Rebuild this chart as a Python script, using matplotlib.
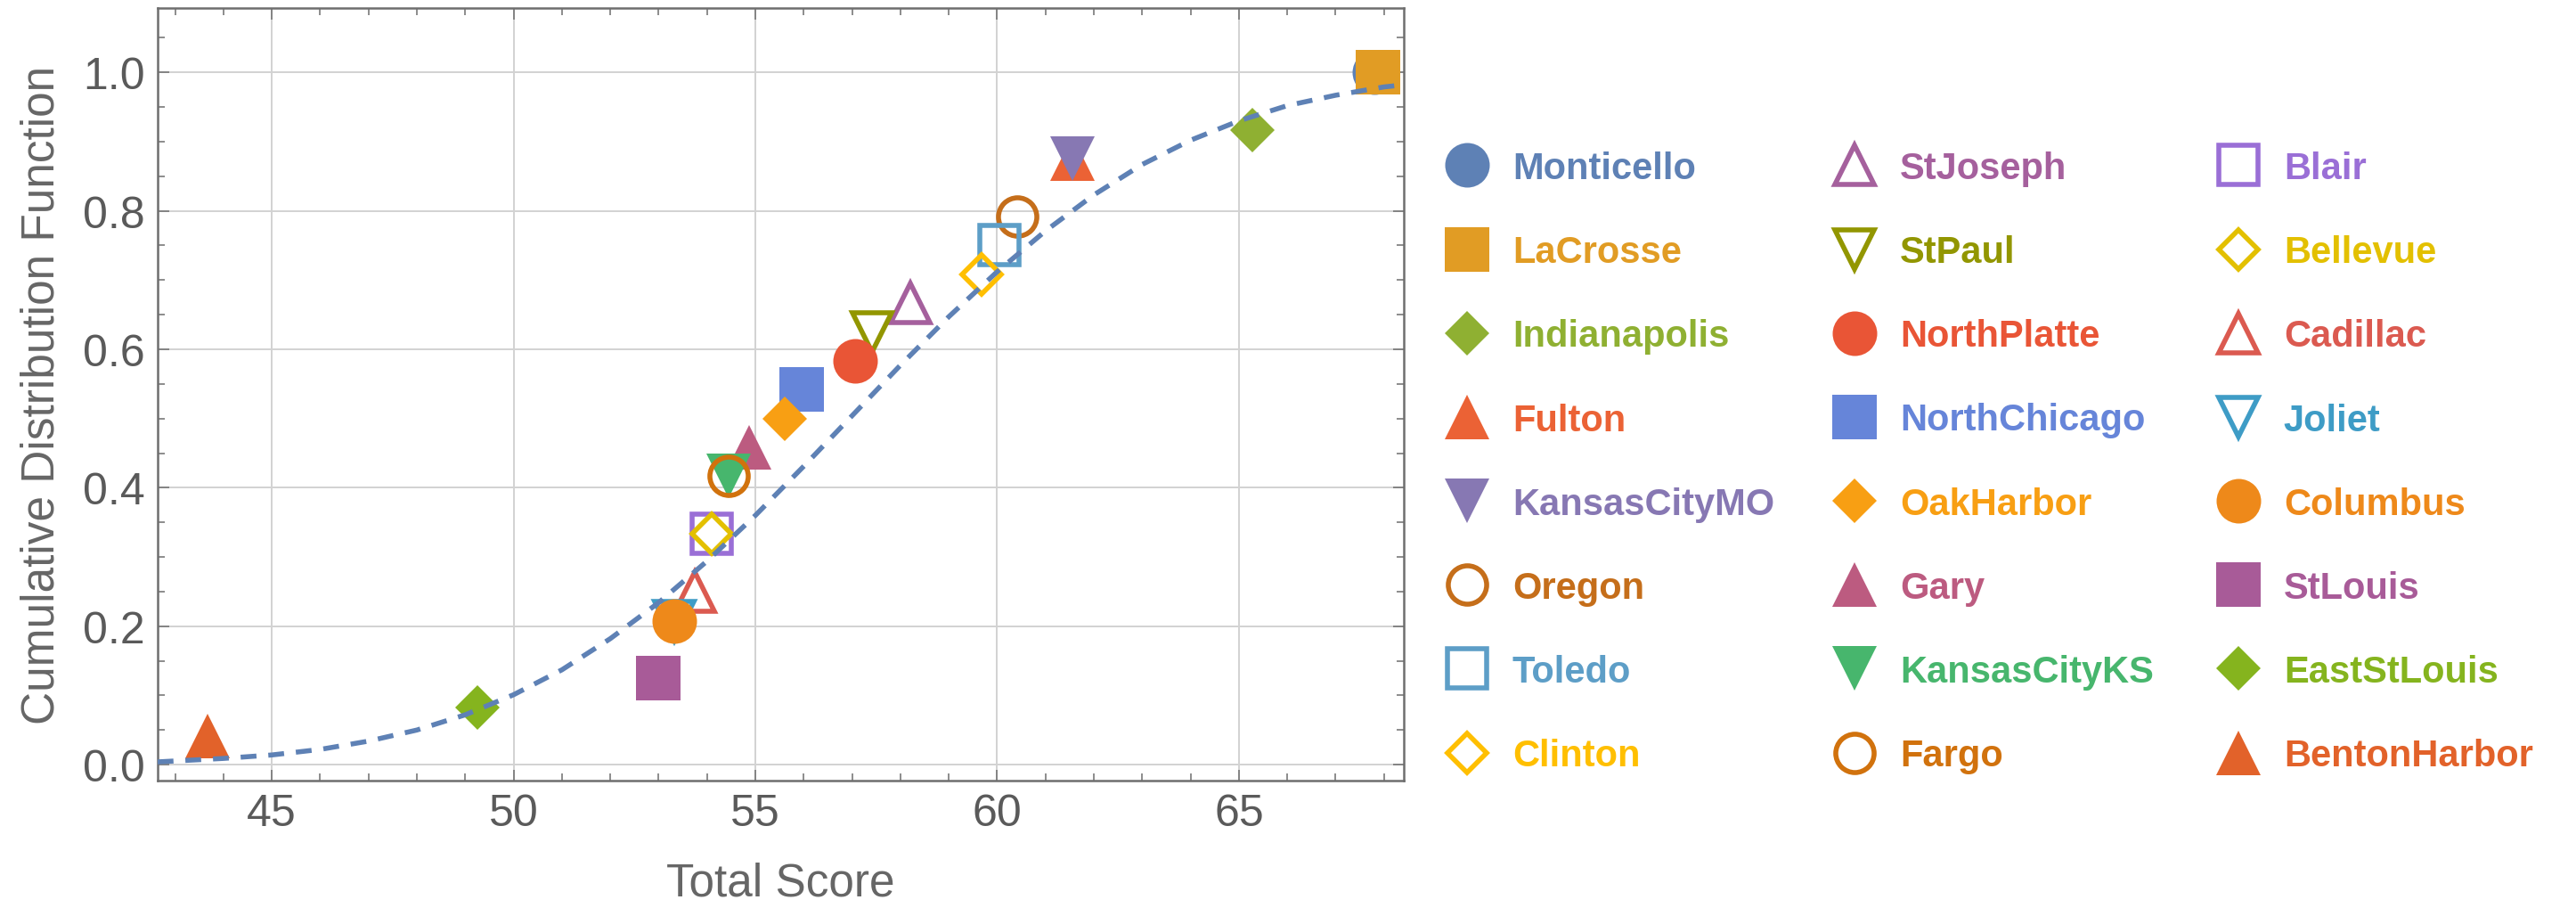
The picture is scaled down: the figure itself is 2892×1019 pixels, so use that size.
import matplotlib
matplotlib.use("Agg")
import matplotlib.pyplot as plt
from matplotlib.ticker import MultipleLocator, FormatStrFormatter

plt.rcParams["font.family"] = ["Liberation Sans", "DejaVu Sans"]

# --- data ---
cities = [
    "Monticello", "LaCrosse", "Indianapolis", "Fulton", "KansasCityMO", "Oregon",
    "Toledo", "Clinton", "StJoseph", "StPaul", "NorthPlatte", "NorthChicago",
    "OakHarbor", "Gary", "KansasCityKS", "Fargo", "Blair", "Bellevue",
    "Cadillac", "Joliet", "Columbus", "StLouis", "EastStLouis", "BentonHarbor",
]
total_score = [
    67.80, 67.87, 65.28, 61.56, 61.56, 60.41,
    60.04, 59.68, 58.21, 57.41, 57.06, 55.96,
    55.61, 54.87, 54.44, 54.44, 54.10, 54.10,
    53.75, 53.33, 53.33, 52.99, 49.25, 43.67,
]
cdf_value = [
    1.000, 1.000, 0.917, 0.875, 0.875, 0.792,
    0.750, 0.708, 0.667, 0.625, 0.583, 0.542,
    0.500, 0.458, 0.417, 0.417, 0.333, 0.333,
    0.250, 0.208, 0.208, 0.125, 0.083, 0.042,
]

# dashed fitted curve
curve_x = [42.64, 44, 45, 46, 47, 48, 49, 50, 51, 52, 53, 54, 55, 56,
           57, 58, 59, 60, 61, 62, 63, 64, 65, 66, 67, 68, 68.41]
curve_y = [0.004, 0.009, 0.014, 0.022, 0.034, 0.050, 0.072, 0.101, 0.137,
           0.182, 0.234, 0.294, 0.360, 0.431, 0.504, 0.577, 0.647, 0.712,
           0.771, 0.823, 0.867, 0.902, 0.930, 0.952, 0.967, 0.979, 0.982]

# --- styles ---
colors = [
    "#5E81B5", "#E19C24", "#8FB032", "#EB6235", "#8778B3", "#C56E1A",
    "#5D9EC7", "#FFBF00", "#A5609D", "#929600", "#E95536", "#6685D9",
    "#F89F13", "#BC5B80", "#47B66D", "#D1720D", "#9A6FD6", "#E3C000",
    "#DB5A50", "#3E9CC6", "#EE891A", "#A85B98", "#85B41E", "#E2622A",
]
# shapes cycle every five series, filled / open alternates every five
shapes = (["o", "s", "D", "^", "v"] * 5)[:24]
filled = [True] * 5 + [False] * 5 + [True] * 5 + [False] * 5 + [True] * 4


def marker_size(shape, is_filled):
    base = 36 if is_filled else 31
    if shape == "D":
        base = base / 1.41
    return base


fig = plt.figure(figsize=(28.92, 10.2), dpi=100)
ax = fig.add_axes([177 / 2892, 1 - 877 / 1020, (1576 - 177) / 2892, (877 - 10) / 1020])

handles = []
for name, x, y, c, m, f in zip(cities, total_score, cdf_value, colors, shapes, filled):
    (h,) = ax.plot(
        [x], [y], linestyle="none", marker=m,
        markersize=marker_size(m, f),
        markerfacecolor=c if f else "none",
        markeredgecolor=c,
        markeredgewidth=0 if f else 4,
        label=name, zorder=3,
    )
    handles.append(h)

ax.plot(curve_x, curve_y, color="#5E81B5", lw=4, dashes=(3.2, 2.4), zorder=4)

ax.set_xlim(42.64, 68.41)
ax.set_ylim(-0.023, 1.093)
ax.xaxis.set_major_locator(MultipleLocator(5))
ax.xaxis.set_minor_locator(MultipleLocator(1))
ax.yaxis.set_major_locator(MultipleLocator(0.2))
ax.yaxis.set_minor_locator(MultipleLocator(0.05))
ax.yaxis.set_major_formatter(FormatStrFormatter("%.1f"))

ax.grid(True, which="major", color="#d2d2d2", lw=1.4, zorder=0)
ax.set_axisbelow(True)
ax.tick_params(which="both", direction="in", top=True, right=True,
               color="#6e6e6e", width=1.1, labelsize=36, labelcolor="#5a5a5a")
ax.tick_params(which="major", length=9)
ax.tick_params(which="minor", length=5.5)
ax.tick_params(axis="x", pad=10)
ax.tick_params(axis="y", pad=10)
for sp in ax.spines.values():
    sp.set_color("#6e6e6e")
    sp.set_linewidth(1.8)

ax.set_xlabel("Total Score", fontsize=37, color="#666666", labelpad=22)
ax.set_ylabel("Cumulative Distribution Function", fontsize=37, color="#666666", labelpad=16)

# legend: three columns of eight
col_left = [1622, 2057, 2488]
for k in range(3):
    part = handles[8 * k: 8 * k + 8]
    leg = fig.legend(
        handles=part, loc="upper left",
        bbox_to_anchor=(col_left[k] / 2892, 1 - 170 / 1020),
        bbox_transform=fig.transFigure,
        frameon=False, numpoints=1,
        prop={"weight": "bold", "size": 30},
        handlelength=1.2, handletextpad=0.62, labelspacing=1.30,
        borderpad=0, borderaxespad=0,
    )
    for txt, c in zip(leg.get_texts(), colors[8 * k: 8 * k + 8]):
        txt.set_color(c)

fig.savefig("out.png", dpi=100)
